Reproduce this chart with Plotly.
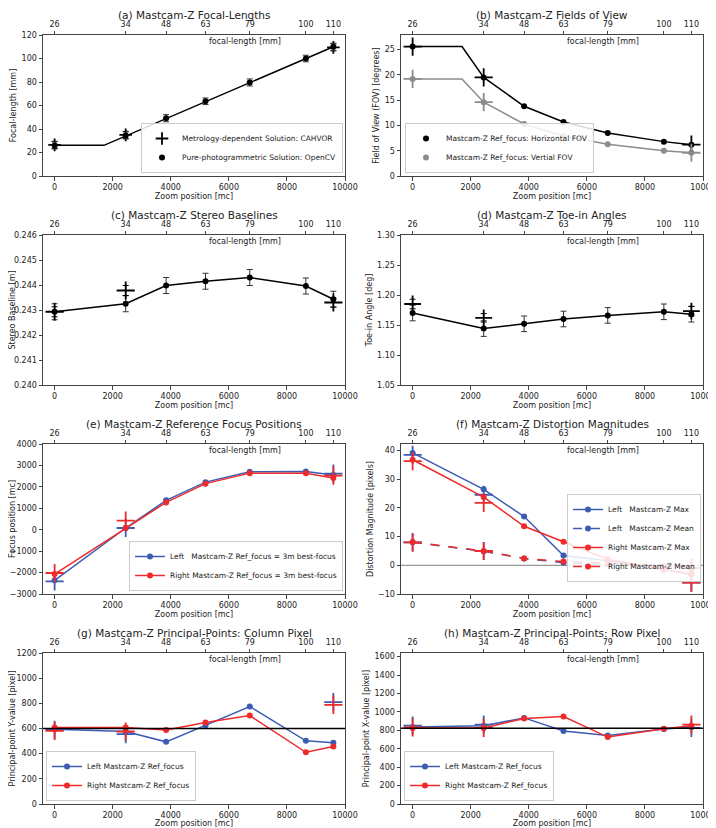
import plotly.graph_objects as go

# ---------------- data ----------------
zoom_mc = [0, 2448, 3840, 5196, 6720, 8652, 9600]
focal_mm_labels = ["26", "34", "48", "63", "79", "100", "110"]
cross_mc = [0, 2448, 9600]
knee_mc = 1700

# (a) focal lengths
fl_model_x = [0, 1700, 9600]
fl_model_y = [26.1, 26.1, 110.0]
fl_opencv = [26.0, 34.5, 49.2, 63.6, 79.6, 100.0, 110.0]
fl_opencv_err = [3.0, 3.0, 3.0, 2.8, 3.0, 2.8, 3.0]
fl_cahvor = [26.5, 35.0, 109.5]
fl_cahvor_err = [3.0, 3.0, 3.0]

# (b) fields of view
fov_h = [25.6, 19.5, 13.8, 10.7, 8.5, 6.8, 6.2]
fov_v = [19.2, 14.6, 10.3, 7.9, 6.3, 5.0, 4.6]
fov_h_cross = [25.6, 19.5, 6.2]
fov_v_cross = [19.2, 14.6, 4.6]

# (c) stereo baselines
baseline = [0.24293, 0.24325, 0.24398, 0.24415, 0.24430, 0.24396, 0.24343]
baseline_err = [0.00032, 0.00032, 0.00032, 0.00032, 0.00032, 0.00032, 0.00032]
baseline_cross = [0.24293, 0.24378, 0.24330]
baseline_cross_err = [0.0002, 0.0002, 0.00018]

# (d) toe-in angles
toe = [1.170, 1.144, 1.152, 1.160, 1.166, 1.172, 1.168]
toe_err = [0.013, 0.013, 0.013, 0.013, 0.013, 0.013, 0.013]
toe_cross = [1.185, 1.162, 1.173]
toe_cross_err = [0.008, 0.007, 0.008]

# (e) reference focus positions
focus_left = [-2360, 80, 1370, 2220, 2700, 2720, 2550]
focus_right = [-2070, 80, 1275, 2150, 2640, 2640, 2410]
focus_left_cross = [-2410, 80, 2620]
focus_right_cross = [-2020, 420, 2520]

# (f) distortion magnitudes
dist_left_max = [39.2, 26.5, 17.0, 3.4, 1.6, -1.6, -3.0]
dist_left_mean = [8.0, 4.9, 2.4, 0.9, 0.4, -0.3, -1.0]
dist_right_max = [36.8, 23.8, 13.6, 8.2, 2.1, -1.4, -3.2]
dist_right_mean = [8.1, 5.0, 2.4, 1.3, 0.8, -0.6, -1.0]
dist_left_max_cross = [38.5, 24.6, -6.0]
dist_right_max_cross = [36.3, 21.8, -6.0]
dist_left_mean_cross = [8.0, 5.0, -1.0]
dist_right_mean_cross = [8.0, 5.0, -1.0]

# (g) principal points: column pixel
ppc_left = [595, 576, 494, 624, 775, 502, 486]
ppc_right = [608, 608, 589, 648, 703, 411, 457]
ppc_left_cross = [590, 555, 810]
ppc_right_cross = [581, 576, 788]
ppc_center = 600

# (h) principal points: row pixel
ppr_left = [837, 851, 935, 793, 745, 815, 833]
ppr_right = [826, 826, 928, 950, 727, 818, 851]
ppr_left_cross = [851, 862, 826]
ppr_right_cross = [833, 826, 862]
ppr_center = 824

panel_titles = [
    "(a) Mastcam-Z Focal-Lengths",
    "(b) Mastcam-Z Fields of View",
    "(c) Mastcam-Z Stereo Baselines",
    "(d) Mastcam-Z Toe-in Angles",
    "(e) Mastcam-Z Reference Focus Positions",
    "(f) Mastcam-Z Distortion Magnitudes",
    "(g) Mastcam-Z Principal-Points: Column Pixel",
    "(h) Mastcam-Z Principal-Points: Row Pixel",
]
y_titles = [
    "Focal-length [mm]",
    "Field of View (FOV) [degrees]",
    "Stereo Baseline [m]",
    "Toe-in Angle [deg]",
    "Focus position [mc]",
    "Distortion Magnitude [pixels]",
    "Principal-point Y-value [pixel]",
    "Principal-point X-value [pixel]",
]

# ---------------- styling / layout ----------------
PAGE_W, PAGE_H = 716, 828
OFF = 8                      # default page body margin
W, H = PAGE_W - OFF, PAGE_H - OFF
FONT = "DejaVu Sans"
BLUE = "#3c5cb4"
RED = "#ee2a2a"
GREY = "#8c8c8c"
AXC = "#444444"
FS = 8

# pixel boxes in window coordinates
col_px = [(43, 345), (401, 703)]
row_px = [(35, 176), (235, 385), (444, 594), (653, 804)]
title_px = [15, 215, 424, 633]
y_ranges = [[0, 120], [0, 27.9], [0.240, 0.246], [1.05, 1.30],
            [-3000, 4000], [-10, 42.3], [0, 1200], [0, 1640]]
y_dticks = [20, 5, 0.001, 0.05, 1000, 10, 200, 200]
y_fmts = ["d", "d", ".3f", ".2f", "d", "d", "d", "d"]
x_range = [-400, 10000]
cross_sizes = [9, 13, 13, 12, 13, 13, 13, 13]


def px_x(p):
    return (p - OFF) / W


def px_y(p):
    return 1 - (p - OFF) / H


fig = go.Figure()
layout = dict(width=W, height=H, margin=dict(l=0, r=0, t=0, b=0, autoexpand=False),
              plot_bgcolor="white", paper_bgcolor="white",
              font=dict(family=FONT, size=FS, color="#222"),
              showlegend=True)
annotations = []
shapes = []


def names(i):
    return ("x" if i == 1 else f"x{i}", "y" if i == 1 else f"y{i}",
            "xaxis" if i == 1 else f"xaxis{i}", "yaxis" if i == 1 else f"yaxis{i}")


for i in range(1, 9):
    r, c = (i - 1) // 2, (i - 1) % 2
    xn, yn, xk, yk = names(i)
    xd = [px_x(col_px[c][0]), px_x(col_px[c][1])]
    yd = [px_y(row_px[r][1]), px_y(row_px[r][0])]
    tk = 8 + i
    layout[xk] = dict(domain=xd, anchor=yn, range=x_range, dtick=2000, tick0=0,
                      tickformat="d", automargin=False,
                      showgrid=False, zeroline=False, showline=True, mirror=True,
                      linecolor=AXC, linewidth=1, ticks="outside", ticklen=3.5,
                      tickcolor=AXC, tickfont=dict(size=FS),
                      title=dict(text="Zoom position [mc]", standoff=2, font=dict(size=FS)))
    layout[yk] = dict(domain=yd, anchor=xn, range=y_ranges[i - 1], dtick=y_dticks[i - 1],
                      tickformat=y_fmts[i - 1], automargin=False, showgrid=False,
                      zeroline=False,
                      showline=True, mirror=True, linecolor=AXC, linewidth=1,
                      ticks="outside", ticklen=3.5, tickcolor=AXC, tickfont=dict(size=FS),
                      title=dict(text=y_titles[i - 1], standoff=3, font=dict(size=FS)))
    layout[f"xaxis{tk}"] = dict(overlaying=xn, anchor=yn, side="top", range=x_range,
                                tickmode="array", tickvals=zoom_mc, ticktext=focal_mm_labels,
                                automargin=False,
                                showgrid=False, zeroline=False, showline=False,
                                ticks="outside", ticklen=3.5, tickcolor=AXC,
                                tickfont=dict(size=FS))
    # invisible trace so the top axis is drawn
    fig.add_trace(go.Scatter(x=zoom_mc, y=[None] * len(zoom_mc), xaxis=f"x{tk}", yaxis=yn,
                             mode="markers", showlegend=False, hoverinfo="skip"))
    annotations.append(dict(text=panel_titles[i - 1], x=(xd[0] + xd[1]) / 2,
                            y=px_y(title_px[r]), xref="paper", yref="paper",
                            showarrow=False, font=dict(size=10.5, color="#222"),
                            xanchor="center", yanchor="middle"))
    annotations.append(dict(text="focal-length [mm]", x=6560, xref=xn,
                            y=px_y(row_px[r][0] + 6), yref="paper",
                            showarrow=False, font=dict(size=FS, color="#222"),
                            xanchor="center", yanchor="middle"))


def dots(x, y, i, color, name=None, err=None, legend=None, dash="solid", line=True,
         showlegend=True):
    xn, yn, _, _ = names(i)
    tr = go.Scatter(x=x, y=y, xaxis=xn, yaxis=yn,
                    mode="lines+markers" if line else "markers",
                    marker=dict(size=6, color=color),
                    line=dict(color=color, width=1.5, dash=dash),
                    name=name, showlegend=showlegend and name is not None,
                    legend=legend)
    if err is not None:
        tr.error_y = dict(type="data", array=err, visible=True, color="#333",
                          thickness=1, width=3)
    fig.add_trace(tr)


def crosses(x, y, i, color, name=None, err=None, legend=None, showlegend=False):
    xn, yn, _, _ = names(i)
    tr = go.Scatter(x=x, y=y, xaxis=xn, yaxis=yn, mode="markers",
                    marker=dict(symbol="cross-thin", size=cross_sizes[i - 1],
                                line=dict(color=color, width=1.8), color=color),
                    name=name, showlegend=showlegend, legend=legend)
    if err is not None:
        tr.error_y = dict(type="data", array=err, visible=True, color=color,
                          thickness=1, width=3)
    fig.add_trace(tr)


def line(x, y, i, color):
    xn, yn, _, _ = names(i)
    fig.add_trace(go.Scatter(x=x, y=y, xaxis=xn, yaxis=yn, mode="lines",
                             line=dict(color=color, width=1.5), showlegend=False,
                             hoverinfo="skip"))


# (a)
line(fl_model_x, fl_model_y, 1, "black")
crosses(cross_mc, fl_cahvor, 1, "black", name="Metrology-dependent Solution: CAHVOR",
        err=fl_cahvor_err, legend="legend", showlegend=True)
dots(zoom_mc, fl_opencv, 1, "black", name="Pure-photogrammetric Solution: OpenCV",
     err=fl_opencv_err, legend="legend", line=False)

# (b)
line([zoom_mc[0], knee_mc] + zoom_mc[1:], [fov_h[0], fov_h[0]] + fov_h[1:], 2, "black")
line([zoom_mc[0], knee_mc] + zoom_mc[1:], [fov_v[0], fov_v[0]] + fov_v[1:], 2, GREY)
dots(zoom_mc, fov_h, 2, "black", name="Mastcam-Z Ref_focus: Horizontal FOV",
     legend="legend2", line=False)
dots(zoom_mc, fov_v, 2, GREY, name="Mastcam-Z Ref_focus: Vertial FOV",
     legend="legend2", line=False)
crosses(cross_mc, fov_h_cross, 2, "black")
crosses(cross_mc, fov_v_cross, 2, GREY)

# (c)
dots(zoom_mc, baseline, 3, "black", err=baseline_err)
crosses(cross_mc, baseline_cross, 3, "black", err=baseline_cross_err)

# (d)
dots(zoom_mc, toe, 4, "black", err=toe_err)
crosses(cross_mc, toe_cross, 4, "black", err=toe_cross_err)

# (e)
dots(zoom_mc, focus_left, 5, BLUE,
     name="Left\u00a0\u00a0\u00a0Mastcam-Z Ref_focus = 3m best-focus", legend="legend3")
crosses(cross_mc, focus_left_cross, 5, BLUE)
dots(zoom_mc, focus_right, 5, RED,
     name="Right Mastcam-Z Ref_focus = 3m best-focus", legend="legend3")
crosses(cross_mc, focus_right_cross, 5, RED)

# (f)
xn6, yn6, _, _ = names(6)
shapes.append(dict(type="line", xref=f"{xn6} domain", yref=yn6, x0=0, x1=1, y0=0, y1=0,
                   line=dict(color="#999", width=1.2), layer="below"))
dots(zoom_mc, dist_left_max, 6, BLUE, name="Left\u00a0\u00a0\u00a0Mastcam-Z Max", legend="legend4")
dots(zoom_mc, dist_left_mean, 6, BLUE, name="Left\u00a0\u00a0\u00a0Mastcam-Z Mean",
     legend="legend4", dash="dash")
crosses(cross_mc, dist_left_max_cross, 6, BLUE)
crosses(cross_mc, dist_left_mean_cross, 6, BLUE)
dots(zoom_mc, dist_right_max, 6, RED, name="Right Mastcam-Z Max", legend="legend4")
dots(zoom_mc, dist_right_mean, 6, RED, name="Right Mastcam-Z Mean",
     legend="legend4", dash="dash")
crosses(cross_mc, dist_right_max_cross, 6, RED)
crosses(cross_mc, dist_right_mean_cross, 6, RED)

# (g)
xn7, yn7, _, _ = names(7)
shapes.append(dict(type="line", xref=f"{xn7} domain", yref=yn7, x0=0, x1=1,
                   y0=ppc_center, y1=ppc_center, line=dict(color="black", width=1.5)))
dots(zoom_mc, ppc_left, 7, BLUE, name="Left Mastcam-Z Ref_focus", legend="legend5")
crosses(cross_mc, ppc_left_cross, 7, BLUE)
dots(zoom_mc, ppc_right, 7, RED, name="Right Mastcam-Z Ref_focus", legend="legend5")
crosses(cross_mc, ppc_right_cross, 7, RED)

# (h)
xn8, yn8, _, _ = names(8)
shapes.append(dict(type="line", xref=f"{xn8} domain", yref=yn8, x0=0, x1=1,
                   y0=ppr_center, y1=ppr_center, line=dict(color="black", width=1.5)))
dots(zoom_mc, ppr_left, 8, BLUE, name="Left Mastcam-Z Ref_focus", legend="legend6")
crosses(cross_mc, ppr_left_cross, 8, BLUE)
dots(zoom_mc, ppr_right, 8, RED, name="Right Mastcam-Z Ref_focus", legend="legend6")
crosses(cross_mc, ppr_right_cross, 8, RED)


def leg(xpx, ypx, xanchor, yanchor):
    return dict(x=px_x(xpx), y=px_y(ypx), xanchor=xanchor, yanchor=yanchor,
                xref="paper", yref="paper", bgcolor="rgba(255,255,255,0.85)",
                bordercolor="#cccccc", borderwidth=1, font=dict(size=7.5),
                itemwidth=30, tracegroupgap=0)


layout["legend"] = leg(343, 173, "right", "bottom")
layout["legend2"] = leg(405, 173, "left", "bottom")
layout["legend3"] = leg(343, 591, "right", "bottom")
layout["legend4"] = leg(701, 494, "right", "top")
layout["legend5"] = leg(46, 801, "left", "bottom")
layout["legend6"] = leg(404, 801, "left", "bottom")

layout["annotations"] = annotations
layout["shapes"] = shapes
fig.update_layout(**layout)
fig.write_html("out.html")
